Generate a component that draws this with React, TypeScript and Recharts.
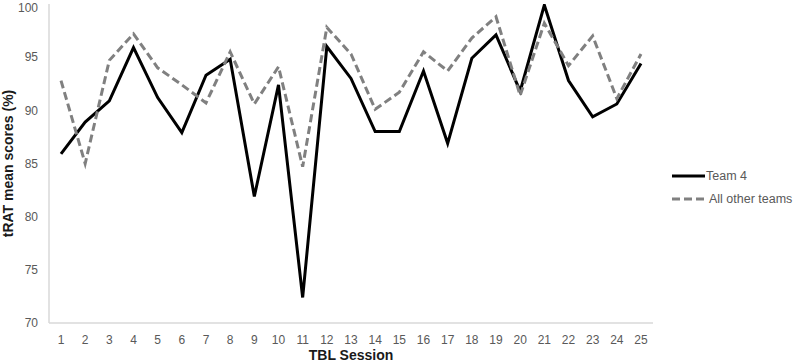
import React from "react";
import {
  LineChart,
  Line,
  XAxis,
  YAxis,
  Legend,
} from "recharts";

const sessions = [
  1, 2, 3, 4, 5, 6, 7, 8, 9, 10, 11, 12, 13, 14, 15, 16, 17, 18, 19, 20, 21, 22, 23, 24, 25,
];
const team4 = [
  85.9, 88.9, 90.9, 95.9, 91.2, 87.9, 93.3, 94.8, 81.9, 92.4, 72.4, 96.0, 93.0,
  88.0, 88.0, 93.7, 86.9, 94.9, 97.1, 91.8, 99.9, 92.8, 89.4, 90.6, 94.4,
];
const otherTeams = [
  92.8, 85.0, 94.7, 97.2, 94.0, 92.4, 90.7, 95.5, 90.6, 94.1, 84.7, 97.8, 95.3,
  90.1, 91.7, 95.5, 93.7, 96.8, 98.8, 91.4, 98.2, 94.2, 97.0, 91.1, 95.3,
];
const yTicks = [70, 75, 80, 85, 90, 95, 100];

const data = sessions.map((s, i) => ({
  session: s,
  team4: team4[i],
  others: otherTeams[i],
}));

const FONT = '"Liberation Sans", Arial, sans-serif';
const TICK_COLOR = "#595959";
const AXIS_COLOR = "#d9d9d9";

const LegendBox = () => (
  <div style={{ fontFamily: FONT, fontSize: 12.5, color: TICK_COLOR }}>
    <div style={{ display: "flex", alignItems: "center", height: 23 }}>
      <svg width={38} height={10}>
        <line x1={4} y1={5} x2={37} y2={5} stroke="#000" strokeWidth={3} />
      </svg>
      <span>Team 4</span>
    </div>
    <div style={{ display: "flex", alignItems: "center", height: 23 }}>
      <svg width={41} height={10}>
        <line
          x1={4}
          y1={5}
          x2={37}
          y2={5}
          stroke="#808080"
          strokeWidth={3}
          strokeDasharray="8 4"
        />
      </svg>
      <span>All other teams</span>
    </div>
  </div>
);

export default function App() {
  return (
    <div style={{ position: "absolute", left: 0, top: 0, width: 800, height: 363, background: "#fff" }}>
      <LineChart
        width={800}
        height={363}
        data={data}
        margin={{ top: 4, right: 147, left: 0, bottom: 0 }}
        style={{ fontFamily: FONT }}
      >
        <XAxis
          dataKey="session"
          height={40}
          padding={{ left: 12, right: 12 }}
          axisLine={{ stroke: AXIS_COLOR, strokeWidth: 1.5 }}
          tickLine={false}
          tickSize={0}
          tickMargin={12}
          interval={0}
          tick={{ fill: TICK_COLOR, fontSize: 12 }}
          label={{
            value: "TBL Session",
            position: "insideBottom",
            offset: 3,
            style: { fill: "#1a1a1a", fontSize: 14, fontWeight: "bold" },
          }}
        />
        <YAxis
          width={49}
          domain={[70, 100]}
          ticks={yTicks}
          allowDataOverflow
          axisLine={{ stroke: AXIS_COLOR, strokeWidth: 1.5 }}
          tickLine={false}
          tickSize={0}
          tickMargin={11}
          tick={{ fill: TICK_COLOR, fontSize: 12 }}
          label={{
            value: "tRAT mean scores (%)",
            angle: -90,
            position: "insideLeft",
            offset: 8,
            style: { fill: "#1a1a1a", fontSize: 14, fontWeight: "bold", textAnchor: "middle" },
          }}
        />
        <Legend
          layout="vertical"
          align="center"
          verticalAlign="middle"
          content={<LegendBox />}
          wrapperStyle={{ left: 668, top: 164, width: 132 }}
        />
        <Line
          type="linear"
          dataKey="team4"
          name="Team 4"
          stroke="#000"
          strokeWidth={3}
          dot={false}
          isAnimationActive={false}
        />
        <Line
          type="linear"
          dataKey="others"
          name="All other teams"
          stroke="#808080"
          strokeWidth={3}
          strokeDasharray="8 4"
          dot={false}
          isAnimationActive={false}
        />
      </LineChart>
    </div>
  );
}
